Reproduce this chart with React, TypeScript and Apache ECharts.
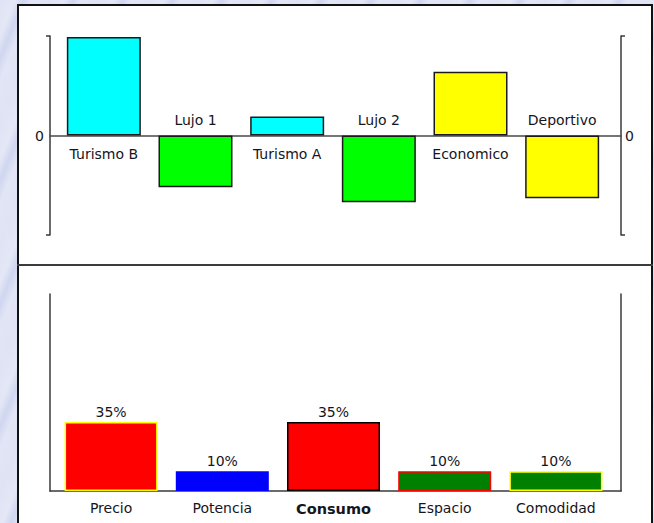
import React, { useEffect, useRef } from "react";
import * as echarts from "echarts";

const topCategories = ["Turismo B", "Lujo 1", "Turismo A", "Lujo 2", "Economico", "Deportivo"];
const topValues = [99, -52, 19, -67, 64, -63];
const topColors = ["#00ffff", "#00ff00", "#00ffff", "#00ff00", "#ffff00", "#ffff00"];
const topAxisRange = [-100, 100];
const topTickLabels = [0];

const bottomCategories = ["Precio", "Potencia", "Consumo", "Espacio", "Comodidad"];
const bottomValues = [35, 10, 35, 10, 10];
const bottomColors = ["#ff0000", "#0000ff", "#ff0000", "#008000", "#008000"];
const bottomBorders = ["#ffff00", "#0000ff", "#000000", "#ff0000", "#ffff00"];
const boldCategory = "Consumo";
const bottomAxisRange = [0, 100];

const FONT = "DejaVu Sans";
const TXT = "#15151c";
const AXIS = "#3a3a3a";
const FS = 14;

export default function App() {
  const ref = useRef<HTMLDivElement>(null);

  useEffect(() => {
    if (!ref.current) return;
    const chart = echarts.init(ref.current, null, { renderer: "svg" });

    const hiddenValue = (gridIndex: number, min: number, max: number) => ({
      gridIndex,
      type: "value",
      min,
      max,
      show: false,
    });

    const frameY = (gridIndex: number, position: string, min: number, max: number, labelled: boolean) => ({
      gridIndex,
      type: "value",
      position,
      min,
      max,
      axisLine: { show: true, lineStyle: { color: AXIS, width: 1.5 } },
      axisTick: labelled
        ? { show: true, inside: false, length: 4, customValues: [min, max], lineStyle: { color: AXIS, width: 1.5 } }
        : { show: false },
      axisLabel: labelled
        ? {
            show: true,
            customValues: topTickLabels,
            margin: position === "right" ? 4 : 6,
            color: TXT,
            fontSize: FS,
            fontFamily: FONT,
          }
        : { show: false },
      splitLine: { show: false },
    });

    const option: any = {
      animation: false,
      textStyle: { fontFamily: FONT },
      grid: [
        { left: 50, right: 33, top: 36, height: 199 },
        { left: 58, width: 550, top: 36, height: 199 },
        { left: 50, right: 33, top: 294, height: 197 },
        { left: 55.5, width: 556, top: 294, height: 197 },
      ],
      xAxis: [
        {
          gridIndex: 0,
          type: "value",
          min: 0,
          max: 1,
          axisLine: { show: true, onZero: true, lineStyle: { color: "#4a4a4a", width: 1.5 } },
          axisTick: { show: false },
          axisLabel: { show: false },
          splitLine: { show: false },
        },
        { gridIndex: 1, type: "category", data: topCategories, show: false },
        {
          gridIndex: 2,
          type: "value",
          min: 0,
          max: 1,
          axisLine: { show: true, onZero: true, lineStyle: { color: AXIS, width: 1.5 } },
          axisTick: { show: false },
          axisLabel: { show: false },
          splitLine: { show: false },
        },
        {
          gridIndex: 3,
          type: "category",
          data: bottomCategories.map((c) =>
            c === boldCategory ? { value: c, textStyle: { fontWeight: "bold", fontSize: 14.5 } } : c
          ),
          axisLine: { show: false },
          axisTick: { show: false },
          axisLabel: { margin: 10, color: TXT, fontSize: FS, fontFamily: FONT, interval: 0 },
          splitLine: { show: false },
        },
      ],
      yAxis: [
        frameY(0, "left", topAxisRange[0], topAxisRange[1], true),
        frameY(0, "right", topAxisRange[0], topAxisRange[1], true),
        hiddenValue(1, topAxisRange[0], topAxisRange[1]),
        frameY(2, "left", bottomAxisRange[0], bottomAxisRange[1], false),
        frameY(2, "right", bottomAxisRange[0], bottomAxisRange[1], false),
        hiddenValue(3, bottomAxisRange[0], bottomAxisRange[1]),
      ],
      series: [
        {
          type: "bar",
          xAxisIndex: 1,
          yAxisIndex: 2,
          barWidth: 74,
          data: topValues.map((v, i) => ({
            value: v,
            itemStyle: { color: topColors[i], borderColor: "#1a1a1a", borderWidth: 1.5 },
            label: {
              show: true,
              position: v >= 0 ? "bottom" : "top",
              distance: v >= 0 ? 11 : 9,
              formatter: () => topCategories[i],
              color: TXT,
              fontSize: FS,
              fontFamily: FONT,
            },
          })),
        },
        {
          type: "bar",
          xAxisIndex: 3,
          yAxisIndex: 5,
          barWidth: 93,
          data: bottomValues.map((v, i) => ({
            value: v,
            itemStyle: { color: bottomColors[i], borderColor: bottomBorders[i], borderWidth: 1.5 },
          })),
          label: {
            show: true,
            position: "top",
            distance: 3,
            formatter: "{c}%",
            color: TXT,
            fontSize: FS,
            fontFamily: FONT,
          },
        },
      ],
    };

    chart.setOption(option);
    return () => chart.dispose();
  }, []);

  return (
    <div
      style={{
        position: "absolute",
        left: 0,
        top: 0,
        width: 654,
        height: 523,
        overflow: "hidden",
        background:
          "repeating-linear-gradient(112deg, #dfe3f4 0px, #e4e7f6 14px, #cfd6f0 22px, #e2e5f5 30px, #dfe3f4 46px)",
      }}
    >
      <div
        style={{
          position: "absolute",
          left: 17,
          top: 4,
          width: 636,
          height: 540,
          boxSizing: "border-box",
          border: "2px solid #111",
          background: "#fff",
        }}
      />
      <div
        style={{
          position: "absolute",
          left: 17,
          top: 264,
          width: 636,
          height: 2,
          background: "#3c3c3c",
        }}
      />
      <div ref={ref} style={{ position: "absolute", left: 0, top: 0, width: 654, height: 523 }} />
    </div>
  );
}
